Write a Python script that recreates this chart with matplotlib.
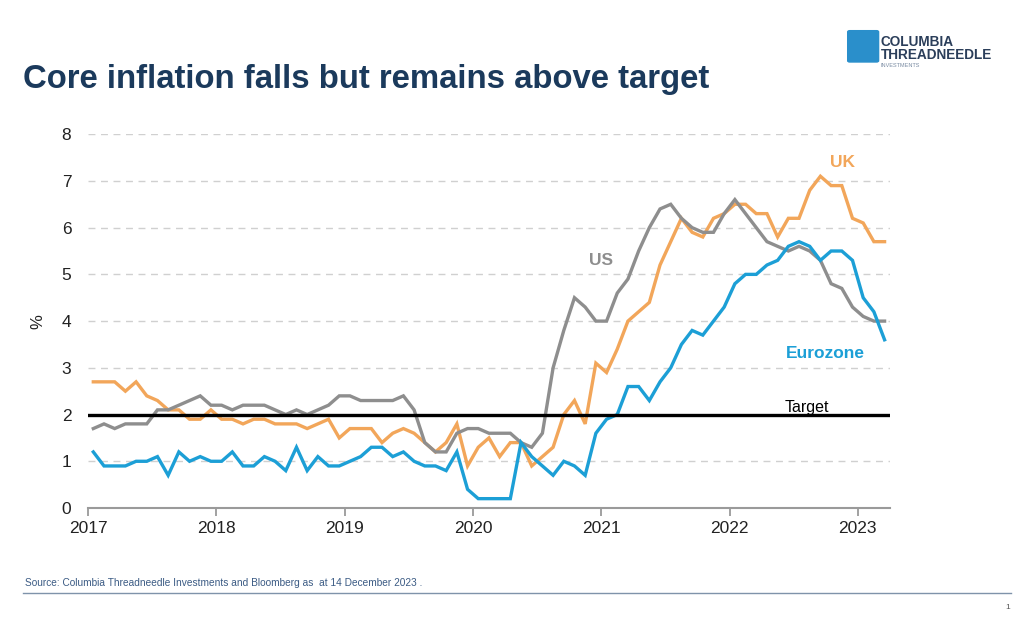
import matplotlib.pyplot as plt
import matplotlib.patches as mpatches
import numpy as np

plt.rcParams['font.family'] = ['Liberation Sans', 'DejaVu Sans']

# Monthly core inflation readings (%), 75 points plotted across the 2017-2023 axis
uk = [2.7, 2.7, 2.7, 2.5, 2.7, 2.4, 2.3, 2.1, 2.1, 1.9, 1.9, 2.1, 1.9, 1.9, 1.8, 1.9,
      1.9, 1.8, 1.8, 1.8, 1.7, 1.8, 1.9, 1.5, 1.7, 1.7, 1.7, 1.4, 1.6, 1.7, 1.6, 1.4,
      1.2, 1.4, 1.8, 0.9, 1.3, 1.5, 1.1, 1.4, 1.4, 0.9, 1.1, 1.3, 2.0, 2.3, 1.8, 3.1,
      2.9, 3.4, 4.0, 4.2, 4.4, 5.2, 5.7, 6.2, 5.9, 5.8, 6.2, 6.3, 6.5, 6.5, 6.3, 6.3,
      5.8, 6.2, 6.2, 6.8, 7.1, 6.9, 6.9, 6.2, 6.1, 5.7, 5.7]
us = [1.7, 1.8, 1.7, 1.8, 1.8, 1.8, 2.1, 2.1, 2.2, 2.3, 2.4, 2.2, 2.2, 2.1, 2.2, 2.2,
      2.2, 2.1, 2.0, 2.1, 2.0, 2.1, 2.2, 2.4, 2.4, 2.3, 2.3, 2.3, 2.3, 2.4, 2.1, 1.4,
      1.2, 1.2, 1.6, 1.7, 1.7, 1.6, 1.6, 1.6, 1.4, 1.3, 1.6, 3.0, 3.8, 4.5, 4.3, 4.0,
      4.0, 4.6, 4.9, 5.5, 6.0, 6.4, 6.5, 6.2, 6.0, 5.9, 5.9, 6.3, 6.6, 6.3, 6.0, 5.7,
      5.6, 5.5, 5.6, 5.5, 5.3, 4.8, 4.7, 4.3, 4.1, 4.0, 4.0]
eurozone = [1.2, 0.9, 0.9, 0.9, 1.0, 1.0, 1.1, 0.7, 1.2, 1.0, 1.1, 1.0, 1.0, 1.2, 0.9, 0.9,
            1.1, 1.0, 0.8, 1.3, 0.8, 1.1, 0.9, 0.9, 1.0, 1.1, 1.3, 1.3, 1.1, 1.2, 1.0, 0.9,
            0.9, 0.8, 1.2, 0.4, 0.2, 0.2, 0.2, 0.2, 1.4, 1.1, 0.9, 0.7, 1.0, 0.9, 0.7, 1.6,
            1.9, 2.0, 2.6, 2.6, 2.3, 2.7, 3.0, 3.5, 3.8, 3.7, 4.0, 4.3, 4.8, 5.0, 5.0, 5.2,
            5.3, 5.6, 5.7, 5.6, 5.3, 5.5, 5.5, 5.3, 4.5, 4.2, 3.6]
target = 2.0
years = [2017, 2018, 2019, 2020, 2021, 2022, 2023]

n = len(uk)
x = years[0] + (np.arange(n) + 0.5) / 12

fig = plt.figure(figsize=(10.3, 6.39), dpi=100)
ax = fig.add_axes([0.0854, 0.205, 0.7786, 0.585])

ax.plot(x, uk, color='#F2A65A', lw=2.4, solid_joinstyle='miter')
ax.plot(x, us, color='#8E8E8E', lw=2.4, solid_joinstyle='miter')
ax.plot(x, eurozone, color='#1C9FD6', lw=2.4, solid_joinstyle='miter')
ax.axhline(target, color='black', lw=2.4, zorder=5)

ax.set_xlim(years[0], years[0] + n / 12)
ax.set_ylim(0, 8)
ax.set_yticks(range(0, 9))
ax.set_xticks(years)
ax.set_xticklabels([str(y) for y in years])

for v in range(1, 9):
    ax.axhline(v, color='#D0D0D0', lw=1.0, ls=(0, (5, 4)), zorder=0)

for side in ['top', 'right', 'left']:
    ax.spines[side].set_visible(False)
ax.spines['bottom'].set_color('#9A9A9A')
ax.spines['bottom'].set_linewidth(1.5)
ax.tick_params(axis='x', length=6, width=1.3, color='#9A9A9A', labelsize=12.5, pad=3, labelcolor='#222222')
ax.tick_params(axis='y', length=0, labelsize=12.5, pad=12, labelcolor='#222222')
ax.set_ylabel('%', fontsize=12, rotation=90, labelpad=12, color='#222222')

ax.text(2022.88, 7.4, 'UK', color='#F2A65A', fontsize=12.5, fontweight='bold', ha='center', va='center')
ax.text(2021.0, 5.3, 'US', color='#8E8E8E', fontsize=12.5, fontweight='bold', ha='center', va='center')
ax.text(2022.75, 3.3, 'Eurozone', color='#1C9FD6', fontsize=12.5, fontweight='bold', ha='center', va='center')
ax.text(2022.6, 2.0, 'Target', color='black', fontsize=11.5, ha='center', va='bottom')

fig.text(0.022, 0.875, 'Core inflation falls but remains above target', fontsize=23.7,
         fontweight='bold', color='#1B3A5C', ha='left', va='center')

fig.text(0.024, 0.087, 'Source: Columbia Threadneedle Investments and Bloomberg as  at 14 December 2023 .',
         fontsize=7.3, color='#3B5B84', ha='left', va='center')
fig.add_artist(plt.Line2D([0.022, 0.982], [0.072, 0.072], color='#7F93AA', lw=1.0))
fig.text(0.978, 0.05, '1', fontsize=6, color='#555555', ha='center', va='center')

# logo
icon = mpatches.FancyBboxPatch((0.825, 0.905), 0.026, 0.045, boxstyle='round,pad=0.002',
                               transform=fig.transFigure, color='#2A8FCB')
fig.add_artist(icon)
fig.text(0.855, 0.934, 'COLUMBIA', fontsize=9.8, fontweight='bold', color='#2B3E5A', va='center')
fig.text(0.855, 0.914, 'THREADNEEDLE', fontsize=9.8, fontweight='bold', color='#2B3E5A', va='center')
fig.text(0.855, 0.897, 'INVESTMENTS', fontsize=4, color='#7A8CA3', va='center')

fig.savefig('out.png', dpi=100)
